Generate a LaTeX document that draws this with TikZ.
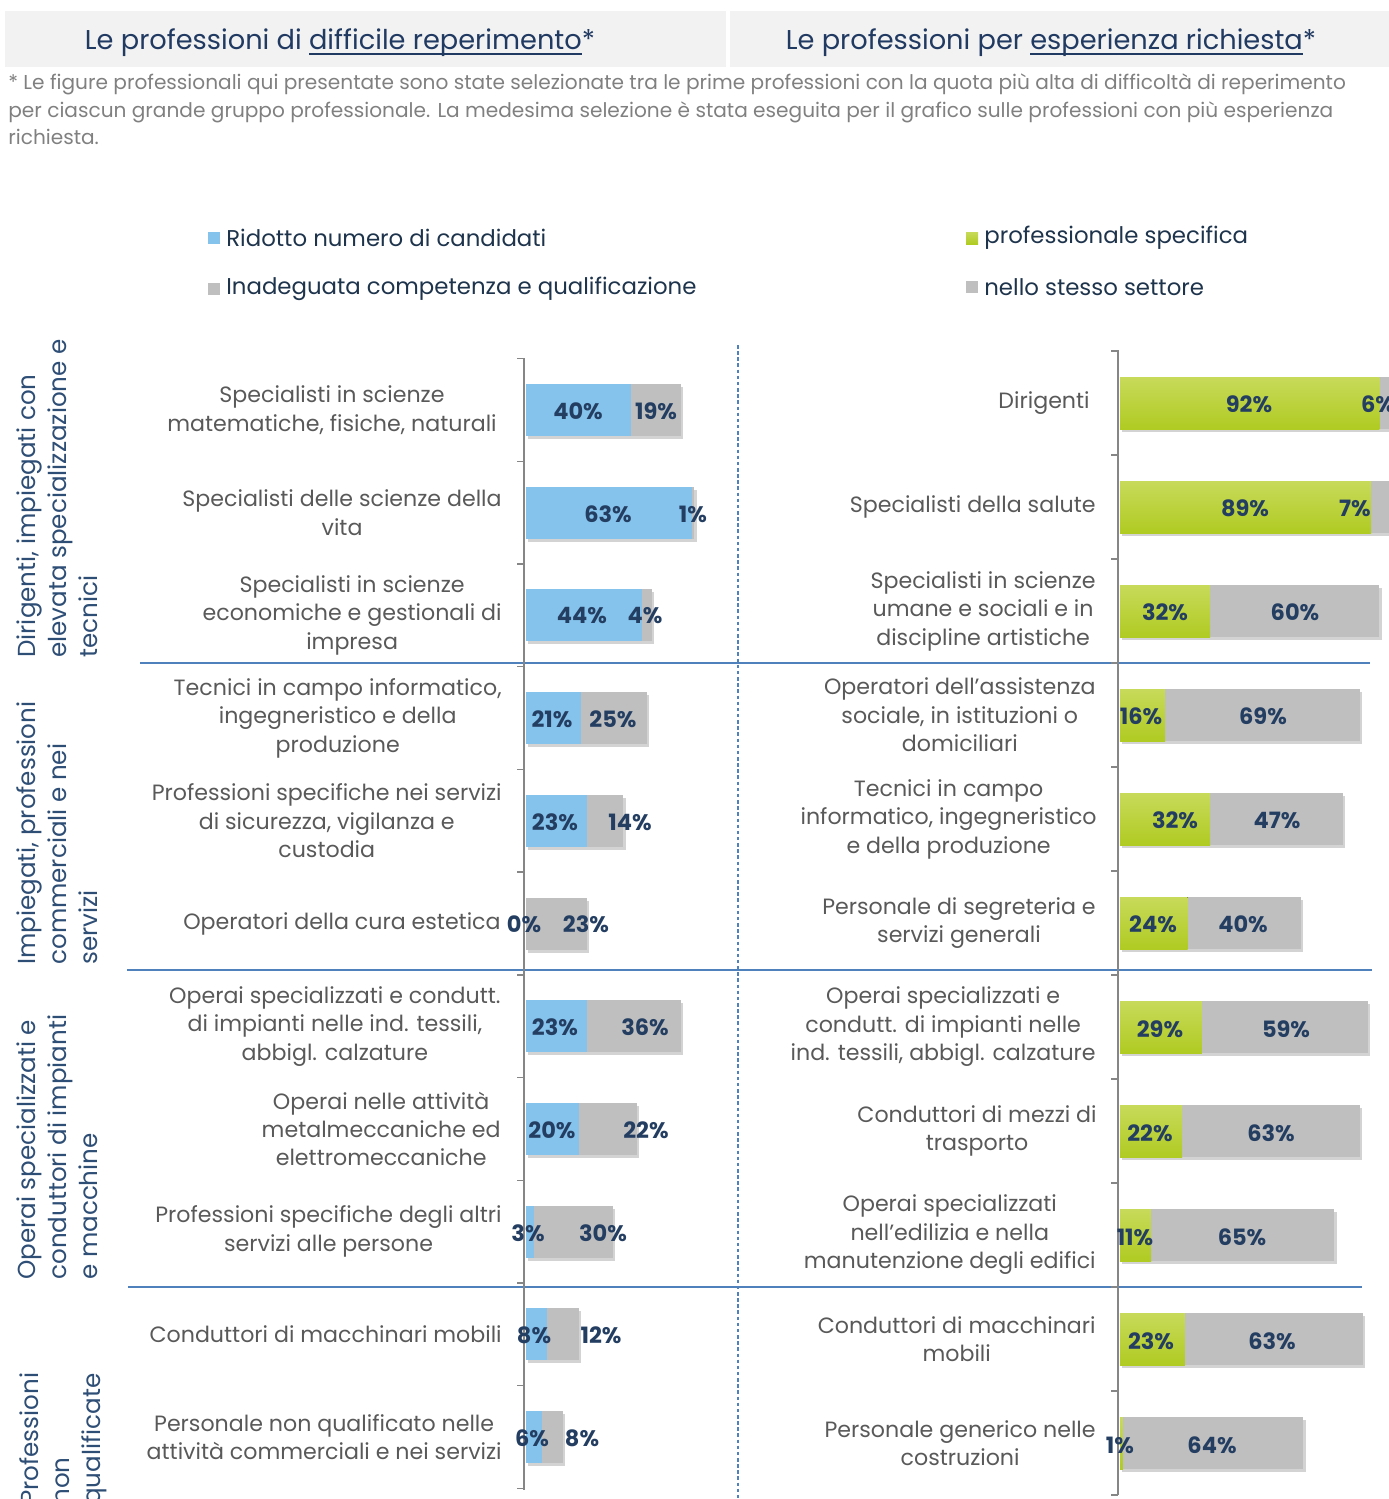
\documentclass[tikz,border=0pt]{standalone}
\usepackage{fontspec}
\setmainfont{Poppins}
\newcommand{\ttlline}[1]{\setbox0\hbox{#1}\leavevmode\rlap{\rule[-2.8pt]{\wd0}{1.1pt}}\box0}
\usetikzlibrary{shadows}
\definecolor{hdrgray}{RGB}{242,242,242}
\definecolor{titlenavy}{RGB}{33,58,98}
\definecolor{notegray}{RGB}{128,128,128}
\definecolor{labgray}{RGB}{89,89,89}
\definecolor{legnavy}{RGB}{30,52,76}
\definecolor{grpnavy}{RGB}{46,78,118}
\definecolor{pctnavy}{RGB}{36,62,98}
\definecolor{barblue}{RGB}{133,195,236}
\definecolor{bargray}{RGB}{191,191,191}
\definecolor{greentop}{RGB}{200,218,90}
\definecolor{greenbot}{RGB}{176,203,34}
\definecolor{sepblue}{RGB}{79,129,189}
\definecolor{axisgray}{RGB}{134,134,134}
\begin{document}
\begin{tikzpicture}[x=0.02cm,y=-0.02cm,
  cat/.style={anchor=east,align=center,inner sep=0pt,text=labgray,font=\fontsize{12.6}{16.2}\selectfont},
  grp/.style={rotate=90,anchor=north west,align=left,inner sep=0pt,text=grpnavy,font=\fontsize{14}{17.8}\selectfont},
  pct/.style={inner sep=0pt,text=pctnavy,font=\fontsize{12.8}{14}\selectfont\bfseries},
  leg/.style={anchor=west,inner sep=0pt,text=legnavy,font=\fontsize{13}{15}\selectfont},
  shd/.style={drop shadow={shadow xshift=1.3pt,shadow yshift=-1.5pt,opacity=0.35}},
  grn/.style={top color=greentop,bottom color=greenbot,draw=none},
  sep/.style={sepblue,line width=1.4pt},
  axis/.style={axisgray,line width=0.8pt}]
\useasboundingbox (0,0) rectangle (1389,1499);

% header:
\fill[hdrgray] (5,11) rectangle (726,67);
\fill[hdrgray] (730,11) rectangle (1389,67);
\path (340,43) node[text=titlenavy,font=\fontsize{15.5}{18}\selectfont] (tl) {Le professioni di \ttlline{difficile reperimento}*};
\path (1051,43) node[text=titlenavy,font=\fontsize{15.5}{18}\selectfont] (tr) {Le professioni per \ttlline{esperienza richiesta}*};
\path (8,73) node[anchor=north west,align=left,inner sep=0pt,text=notegray,font=\fontsize{11.45}{15.9}\selectfont] (note) {* Le figure professionali qui presentate sono state selezionate tra le prime professioni con la quota più alta di difficoltà di reperimento\\per ciascun grande gruppo professionale. La medesima selezione è stata eseguita per il grafico sulle professioni con più esperienza\\richiesta.};

% legends:
\fill[barblue] (208,232) rectangle (220,244);
\path (226,238) node[leg] (legl1) {Ridotto numero di candidati};
\fill[bargray] (208,283) rectangle (220,295);
\path (226,289) node[leg] (legl2) {Inadeguata competenza e qualificazione};
\fill[grn] (966,232) rectangle (978,244);
\path (984,238) node[leg] (legr1) {professionale specifica};
\fill[bargray] (966,281) rectangle (978,293);
\path (984,287) node[leg] (legr2) {nello stesso settore};

% group separators and middle line:
\draw[sep] (140,663) -- (1370,663);
\draw[sep] (127,970) -- (1372,970);
\draw[sep] (128,1287) -- (1362,1287);
\draw[sepblue,line width=0.6pt,dash pattern=on 2pt off 1.5pt] (738,345) -- (738,1499);

% group labels:
\path (16,658) node[grp] (g1) {Dirigenti, impiegati con\\elevata specializzazione e\\tecnici};
\path (16,965) node[grp] (g2) {Impiegati, professioni\\commerciali e nei\\servizi};
\path (16,1280) node[grp] (g3) {Operai specializzati e\\conduttori di impianti\\e macchine};
\path (19,1505) node[grp] (g4) {Professioni\\non\\qualificate};

% left chart, bars:
\path[shd,fill=bargray] (526,384) rectangle (681.2,436);
\fill[barblue] (526,384) rectangle (631.2,436);
\path[shd,fill=bargray] (526,487) rectangle (694.3,539);
\fill[barblue] (526,487) rectangle (691.7,539);
\path[shd,fill=bargray] (526,589) rectangle (652.2,641);
\fill[barblue] (526,589) rectangle (641.7,641);
\path[shd,fill=bargray] (526,692) rectangle (647.0,744);
\fill[barblue] (526,692) rectangle (581.2,744);
\path[shd,fill=bargray] (526,795) rectangle (623.3,847);
\fill[barblue] (526,795) rectangle (586.5,847);
\path[shd,fill=bargray] (526,898) rectangle (586.5,950);
\path[shd,fill=bargray] (526,1000) rectangle (681.2,1052);
\fill[barblue] (526,1000) rectangle (586.5,1052);
\path[shd,fill=bargray] (526,1103) rectangle (636.5,1155);
\fill[barblue] (526,1103) rectangle (578.6,1155);
\path[shd,fill=bargray] (526,1206) rectangle (612.8,1258);
\fill[barblue] (526,1206) rectangle (533.9,1258);
\path[shd,fill=bargray] (526,1308) rectangle (578.6,1360);
\fill[barblue] (526,1308) rectangle (547.0,1360);
\path[shd,fill=bargray] (526,1411) rectangle (562.8,1463);
\fill[barblue] (526,1411) rectangle (541.8,1463);

% left chart, axis:
\draw[axis] (524,358) -- (524,1490);
\draw[axis] (517,358.6) -- (524,358.6);
\draw[axis] (517,461.3) -- (524,461.3);
\draw[axis] (517,564.0) -- (524,564.0);
\draw[axis] (517,666.7) -- (524,666.7);
\draw[axis] (517,769.4) -- (524,769.4);
\draw[axis] (517,872.1) -- (524,872.1);
\draw[axis] (517,974.8) -- (524,974.8);
\draw[axis] (517,1077.5) -- (524,1077.5);
\draw[axis] (517,1180.2) -- (524,1180.2);
\draw[axis] (517,1282.9) -- (524,1282.9);
\draw[axis] (517,1385.6) -- (524,1385.6);
\draw[axis] (517,1488.3) -- (524,1488.3);

% left chart, categories:
\path (497,410) node[cat] (cl1) {Specialisti in scienze\\matematiche, fisiche, naturali};
\path (502,512.7) node[cat] (cl2) {Specialisti delle scienze della\\vita};
\path (502,615.4) node[cat] (cl3) {Specialisti in scienze\\economiche e gestionali di\\impresa};
\path (502,718.1) node[cat] (cl4) {Tecnici in campo informatico,\\ingegneristico e della\\produzione};
\path (502,820.8) node[cat] (cl5) {Professioni specifiche nei servizi\\di sicurezza, vigilanza e\\custodia};
\path (501,923.5) node[cat] (cl6) {Operatori della cura estetica};
\path (501,1026.2) node[cat] (cl7) {Operai specializzati e condutt.\\di impianti nelle ind. tessili,\\abbigl. calzature};
\path (501,1128.9) node[cat] (cl8) {Operai nelle attività\\metalmeccaniche ed\\elettromeccaniche};
\path (502,1231.6) node[cat] (cl9) {Professioni specifiche degli altri\\servizi alle persone};
\path (502,1334.3) node[cat] (cl10) {Conduttori di macchinari mobili};
\path (502,1437) node[cat] (cl11) {Personale non qualificato nelle\\attività commerciali e nei servizi};

% left chart, values:
\path (578,411) node[pct] (pl1a) {40\%};
\path (656,411) node[pct] (pl1b) {19\%};
\path (608,514) node[pct] (pl2a) {63\%};
\path (693,514) node[pct] (pl2b) {1\%};
\path (582,616) node[pct] (pl3a) {44\%};
\path (645,616) node[pct] (pl3b) {4\%};
\path (552,719) node[pct] (pl4a) {21\%};
\path (613,719) node[pct] (pl4b) {25\%};
\path (555,822) node[pct] (pl5a) {23\%};
\path (630,822) node[pct] (pl5b) {14\%};
\path (524,924) node[pct] (pl6a) {0\%};
\path (586,924) node[pct] (pl6b) {23\%};
\path (555,1027) node[pct] (pl7a) {23\%};
\path (645,1027) node[pct] (pl7b) {36\%};
\path (552,1130) node[pct] (pl8a) {20\%};
\path (646,1130) node[pct] (pl8b) {22\%};
\path (528,1233) node[pct] (pl9a) {3\%};
\path (603,1233) node[pct] (pl9b) {30\%};
\path (534,1335) node[pct] (pl10a) {8\%};
\path (601,1335) node[pct] (pl10b) {12\%};
\path (532,1438) node[pct] (pl11a) {6\%};
\path (582,1438) node[pct] (pl11b) {8\%};

% right chart, bars:
\path[shd,fill=bargray] (1120,377) rectangle (1396.4,429);
\fill[grn] (1120,377) rectangle (1379.4,429);
\path[shd,fill=bargray] (1120,481) rectangle (1390.7,533);
\fill[grn] (1120,481) rectangle (1371.0,533);
\path[shd,fill=bargray] (1120,585) rectangle (1379.4,637);
\fill[grn] (1120,585) rectangle (1210.2,637);
\path[shd,fill=bargray] (1120,689) rectangle (1359.7,741);
\fill[grn] (1120,689) rectangle (1165.1,741);
\path[shd,fill=bargray] (1120,793) rectangle (1342.8,845);
\fill[grn] (1120,793) rectangle (1210.2,845);
\path[shd,fill=bargray] (1120,897) rectangle (1300.5,949);
\fill[grn] (1120,897) rectangle (1187.7,949);
\path[shd,fill=bargray] (1120,1001) rectangle (1368.2,1053);
\fill[grn] (1120,1001) rectangle (1201.8,1053);
\path[shd,fill=bargray] (1120,1105) rectangle (1359.7,1157);
\fill[grn] (1120,1105) rectangle (1182.0,1157);
\path[shd,fill=bargray] (1120,1209) rectangle (1334.3,1261);
\fill[grn] (1120,1209) rectangle (1151.0,1261);
\path[shd,fill=bargray] (1120,1313) rectangle (1362.5,1365);
\fill[grn] (1120,1313) rectangle (1184.9,1365);
\path[shd,fill=bargray] (1120,1417) rectangle (1303.3,1469);
\fill[grn] (1120,1417) rectangle (1122.8,1469);

% right chart, axis:
\draw[axis] (1118,350) -- (1118,1495);
\draw[axis] (1111,351) -- (1118,351);
\draw[axis] (1111,455) -- (1118,455);
\draw[axis] (1111,559) -- (1118,559);
\draw[axis] (1111,663) -- (1118,663);
\draw[axis] (1111,767) -- (1118,767);
\draw[axis] (1111,871) -- (1118,871);
\draw[axis] (1111,975) -- (1118,975);
\draw[axis] (1111,1079) -- (1118,1079);
\draw[axis] (1111,1183) -- (1118,1183);
\draw[axis] (1111,1287) -- (1118,1287);
\draw[axis] (1111,1391) -- (1118,1391);
\draw[axis] (1111,1495) -- (1118,1495);

% right chart, categories:
\path (1090,403) node[cat] (cr1) {Dirigenti};
\path (1096,507) node[cat] (cr2) {Specialisti della salute};
\path (1096,611) node[cat] (cr3) {Specialisti in scienze\\umane e sociali e in\\discipline artistiche};
\path (1096,715) node[cat] (cr4) {Operatori dell'assistenza\\sociale, in istituzioni o\\domiciliari};
\path (1097,819) node[cat] (cr5) {Tecnici in campo\\informatico, ingegneristico\\e della produzione};
\path (1096,923) node[cat] (cr6) {Personale di segreteria e\\servizi generali};
\path (1096,1027) node[cat] (cr7) {Operai specializzati e\\condutt. di impianti nelle\\ind. tessili, abbigl. calzature};
\path (1097,1131) node[cat] (cr8) {Conduttori di mezzi di\\trasporto};
\path (1096,1235) node[cat] (cr9) {Operai specializzati\\nell’edilizia e nella\\manutenzione degli edifici};
\path (1096,1339) node[cat] (cr10) {Conduttori di macchinari\\mobili};
\path (1096,1443) node[cat] (cr11) {Personale generico nelle\\costruzioni};

% right chart, values:
\path (1249,404) node[pct] (pr1a) {92\%};
\path (1378,404) node[pct] (pr1b) {6\%};
\path (1245,508) node[pct] (pr2a) {89\%};
\path (1355,508) node[pct] (pr2b) {7\%};
\path (1165,612) node[pct] (pr3a) {32\%};
\path (1295,612) node[pct] (pr3b) {60\%};
\path (1141,716) node[pct] (pr4a) {16\%};
\path (1263,716) node[pct] (pr4b) {69\%};
\path (1175,820) node[pct] (pr5a) {32\%};
\path (1277,820) node[pct] (pr5b) {47\%};
\path (1153,924) node[pct] (pr6a) {24\%};
\path (1243,924) node[pct] (pr6b) {40\%};
\path (1160,1029) node[pct] (pr7a) {29\%};
\path (1286,1029) node[pct] (pr7b) {59\%};
\path (1150,1133) node[pct] (pr8a) {22\%};
\path (1271,1133) node[pct] (pr8b) {63\%};
\path (1135,1237) node[pct] (pr9a) {11\%};
\path (1242,1237) node[pct] (pr9b) {65\%};
\path (1151,1341) node[pct] (pr10a) {23\%};
\path (1272,1341) node[pct] (pr10b) {63\%};
\path (1120,1445) node[pct] (pr11a) {1\%};
\path (1212,1445) node[pct] (pr11b) {64\%};

\end{tikzpicture}
\end{document}
